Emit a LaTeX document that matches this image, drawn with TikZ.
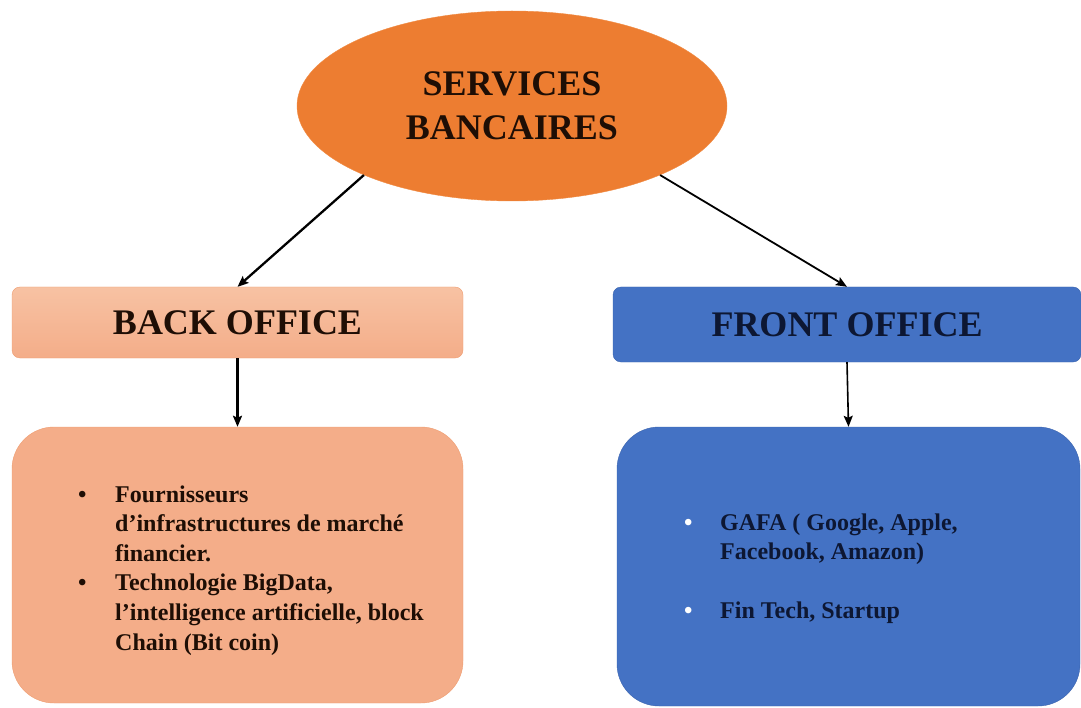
\documentclass[tikz,border=0pt]{standalone}
\usepackage{fontspec}
\setmainfont{Liberation Serif}
\usetikzlibrary{shapes.geometric,arrows.meta}
\definecolor{orangefill}{HTML}{ED7D31}
\definecolor{orangeline}{HTML}{F08C45}
\definecolor{salmontop}{HTML}{F7C2A3}
\definecolor{salmonfill}{HTML}{F4AD89}
\definecolor{salmonline}{HTML}{EE9C70}
\definecolor{bluefill}{HTML}{4472C4}
\definecolor{blueline}{HTML}{3B64AE}
\definecolor{navytext}{HTML}{0D1733}
\definecolor{browntext}{HTML}{1E0E05}
\begin{document}
\begin{tikzpicture}[x=1pt,y=-1pt,
    head/.style={rectangle,rounded corners=8pt,inner sep=0pt,font=\fontsize{36}{43}\selectfont\bfseries},
    panel/.style={rectangle,rounded corners=42pt,inner sep=0pt},
    listtext/.style={inner sep=0pt,font=\fontsize{24}{29.6}\selectfont\bfseries},
    link/.style={-{Stealth[length=11pt,width=9pt,inset=2pt]},line width=2.3pt}]
  \useasboundingbox (0,0) rectangle (1081,708);
  \node[ellipse,fill=orangefill,draw=orangeline,minimum width=430pt,minimum height=190pt,inner sep=0pt,
        align=center,text=browntext,font=\fontsize{36}{44}\selectfont\bfseries] (services) at (512,106) {SERVICES\\BANCAIRES};
  \node[head,top color=salmontop,bottom color=salmonfill,draw=salmonline,text=browntext,
        minimum width=451pt,minimum height=71pt] (back) at (237.5,322.5) {BACK OFFICE};
  \node[head,fill=bluefill,draw=blueline,text=navytext,
        minimum width=468pt,minimum height=75pt] (front) at (847,324.5) {FRONT OFFICE};
  \node[panel,fill=salmonfill,draw=salmonline,minimum width=451pt,minimum height=276pt] (backpanel) at (237.5,565) {};
  \node[panel,fill=bluefill,draw=blueline,minimum width=463pt,minimum height=279pt] (frontpanel) at (848.5,566.5) {};
  \node[listtext,text=browntext,anchor=base west] (backlist) at (78,502) {%
    \begin{tabular}[t]{@{}p{37pt}@{}l@{}}
      \textbullet & Fournisseurs\\
                  & d’infrastructures de marché\\
                  & financier.\\
      \textbullet & Technologie BigData,\\
                  & l’intelligence artificielle, block\\
                  & Chain (Bit coin)
    \end{tabular}};
  \node[listtext,text=navytext,anchor=base west] (frontlist) at (684,530) {%
    \begin{tabular}[t]{@{}p{36pt}@{}l@{}}
      \textcolor{white}{\textbullet} & GAFA ( Google, Apple,\\
                                     & Facebook, Amazon)\\
                                     & \\
      \textcolor{white}{\textbullet} & Fin Tech, Startup
    \end{tabular}};
  \draw[link] (services.205) -- (back.north);
  \draw[link,line width=1.8pt] (services.335) -- (front.north);
  \draw[link] (back.south) -- (backpanel.north);
  \draw[link,line width=1.6pt] (front.south) -- (frontpanel.north);
\end{tikzpicture}
\end{document}
